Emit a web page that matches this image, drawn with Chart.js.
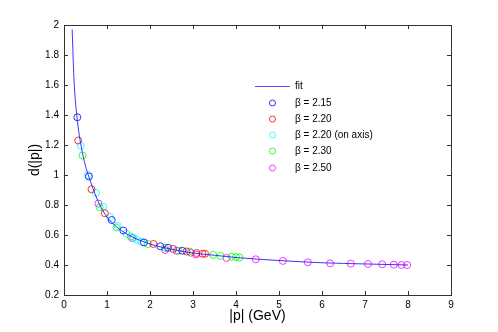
<!DOCTYPE html>
<html>
<head>
<meta charset="utf-8">
<script src="https://cdn.jsdelivr.net/npm/chart.js@4"></script>
<style>
  html, body { margin: 0; padding: 0; background: #fff; }
</style>
</head>
<body>
<canvas id="chart" width="498" height="332"></canvas>
<script>
// fit curve
const fitP = [0.19, 0.23, 0.30, 0.40, 0.50, 0.60, 0.80, 1.00, 1.20, 1.50, 2.00, 2.50, 3.00, 3.50, 4.00, 5.00, 6.00, 7.00, 8.00];
const fitD = [1.97, 1.65, 1.39, 1.19, 1.06, 0.97, 0.82, 0.72, 0.66, 0.60, 0.54, 0.505, 0.48, 0.465, 0.45, 0.43, 0.415, 0.407, 0.40];

// lattice points per beta
const b215P = [0.31, 0.58, 1.11, 1.38, 1.86, 2.24, 2.42, 2.75];
const b215D = [1.385, 0.99, 0.70, 0.63, 0.55, 0.525, 0.515, 0.495];

const b220P = [0.33, 0.64, 0.95, 2.08, 2.54, 2.85, 3.08, 3.22, 3.28];
const b220D = [1.23, 0.905, 0.745, 0.54, 0.507, 0.49, 0.48, 0.475, 0.475];

const b220axP = [0.39, 0.56, 0.74, 0.91, 1.07, 1.25, 1.45, 1.62, 1.70, 1.80];
const b220axD = [1.195, 1.00, 0.88, 0.79, 0.72, 0.66, 0.61, 0.58, 0.567, 0.555];

const b230P = [0.43, 0.83, 1.22, 1.55, 1.95, 2.35, 2.66, 2.92, 3.47, 3.64, 3.90, 4.00, 4.08];
const b230D = [1.13, 0.785, 0.65, 0.59, 0.54, 0.515, 0.495, 0.49, 0.467, 0.46, 0.455, 0.453, 0.45];

const b250P = [0.80, 1.59, 2.35, 2.62, 2.95, 3.07, 3.78, 4.46, 5.09, 5.67, 6.19, 6.67, 7.07, 7.40, 7.67, 7.85, 7.98];
const b250D = [0.81, 0.58, 0.50, 0.495, 0.482, 0.47, 0.447, 0.438, 0.427, 0.418, 0.411, 0.409, 0.407, 0.405, 0.402, 0.40, 0.40];

const legendLabels = ['fit', 'β = 2.15', 'β = 2.20', 'β = 2.20 (on axis)', 'β = 2.30', 'β = 2.50'];
const xTicks = [0, 1, 2, 3, 4, 5, 6, 7, 8, 9];
const yTicks = [0.2, 0.4, 0.6, 0.8, 1, 1.2, 1.4, 1.6, 1.8, 2];

const toXY = (xs, ys) => xs.map((x, i) => ({ x: x, y: ys[i] }));

function pointSet(label, xs, ys, color) {
    return {
        label: label,
        data: toXY(xs, ys),
        showLine: false,
        pointStyle: 'circle',
        pointRadius: 3.5,
        pointBorderWidth: 0.8,
        pointBorderColor: color,
        pointBackgroundColor: 'rgba(0,0,0,0)',
        borderColor: color
    };
}

const FONT = 'Liberation Sans, Arial, Helvetica, sans-serif';

// MATLAB style box with inward ticks, axis titles and the legend
const matlabAxes = {
    id: 'matlabAxes',
    afterDraw(chart) {
        const { ctx, chartArea: a, scales: { x, y } } = chart;
        ctx.save();
        ctx.strokeStyle = '#333';
        ctx.lineWidth = 1;
        ctx.strokeRect(a.left + 0.5, a.top + 0.5, a.right - a.left, a.bottom - a.top);

        const tl = 4;
        ctx.beginPath();
        xTicks.forEach(v => {
            const px = Math.round(x.getPixelForValue(v)) + 0.5;
            ctx.moveTo(px, a.bottom); ctx.lineTo(px, a.bottom - tl);
            ctx.moveTo(px, a.top); ctx.lineTo(px, a.top + tl);
        });
        yTicks.forEach(v => {
            const py = Math.round(y.getPixelForValue(v)) + 0.5;
            ctx.moveTo(a.left, py); ctx.lineTo(a.left + tl, py);
            ctx.moveTo(a.right, py); ctx.lineTo(a.right - tl, py);
        });
        ctx.stroke();

        // axis titles
        ctx.fillStyle = '#000';
        ctx.font = '14px ' + FONT;
        ctx.textAlign = 'center';
        ctx.textBaseline = 'middle';
        ctx.fillText('|p| (GeV)', (a.left + a.right) / 2, 316);
        ctx.save();
        ctx.translate(35, (a.top + a.bottom) / 2);
        ctx.rotate(-Math.PI / 2);
        ctx.fillText('d(|p|)', 0, 0);
        ctx.restore();

        // legend
        ctx.font = '10px ' + FONT;
        ctx.textAlign = 'left';
        ctx.lineWidth = 0.8;
        const rows = [86, 103, 119, 135, 151, 168];
        chart.data.datasets.forEach((ds, i) => {
            const ry = rows[i];
            ctx.strokeStyle = ds.borderColor;
            ctx.beginPath();
            if (i === 0) {
                ctx.moveTo(255, ry + 0.5); ctx.lineTo(290, ry + 0.5);
            } else {
                ctx.arc(272.5, ry, 3, 0, Math.PI * 2);
            }
            ctx.stroke();
            ctx.fillStyle = '#000';
            ctx.fillText(legendLabels[i], 295, ry);
        });
        ctx.restore();
    }
};

new Chart(document.getElementById('chart'), {
    type: 'scatter',
    data: {
        datasets: [
            {
                label: legendLabels[0],
                data: toXY(fitP, fitD),
                showLine: true,
                borderColor: '#2020ff',
                borderWidth: 0.9,
                pointRadius: 0,
                cubicInterpolationMode: 'monotone'
            },
            pointSet(legendLabels[1], b215P, b215D, '#0000ff'),
            pointSet(legendLabels[2], b220P, b220D, '#ff0000'),
            pointSet(legendLabels[3], b220axP, b220axD, '#00ffff'),
            pointSet(legendLabels[4], b230P, b230D, '#00ff00'),
            pointSet(legendLabels[5], b250P, b250D, '#ff00ff')
        ]
    },
    options: {
        responsive: false,
        animation: false,
        devicePixelRatio: 1,
        layout: { padding: { top: 25, right: 47, left: 0, bottom: 0 } },
        plugins: { legend: { display: false }, tooltip: { enabled: false } },
        scales: {
            x: {
                type: 'linear',
                min: 0, max: 9,
                afterFit: (s) => { s.height = 37; },
                afterBuildTicks: (s) => { s.ticks = xTicks.map(v => ({ value: v })); },
                grid: { display: false, drawTicks: false },
                border: { display: false },
                ticks: { padding: 4, color: '#000', font: { family: FONT, size: 10 }, maxRotation: 0, autoSkip: false }
            },
            y: {
                type: 'linear',
                min: 0.2, max: 2,
                afterFit: (s) => { s.width = 64; },
                afterBuildTicks: (s) => { s.ticks = yTicks.map(v => ({ value: v })); },
                grid: { display: false, drawTicks: false },
                border: { display: false },
                ticks: {
                    padding: 5, color: '#000', font: { family: FONT, size: 10 }, autoSkip: false,
                    callback: (v) => String(+Number(v).toFixed(1))
                }
            }
        }
    },
    plugins: [matlabAxes]
});
</script>
</body>
</html>
